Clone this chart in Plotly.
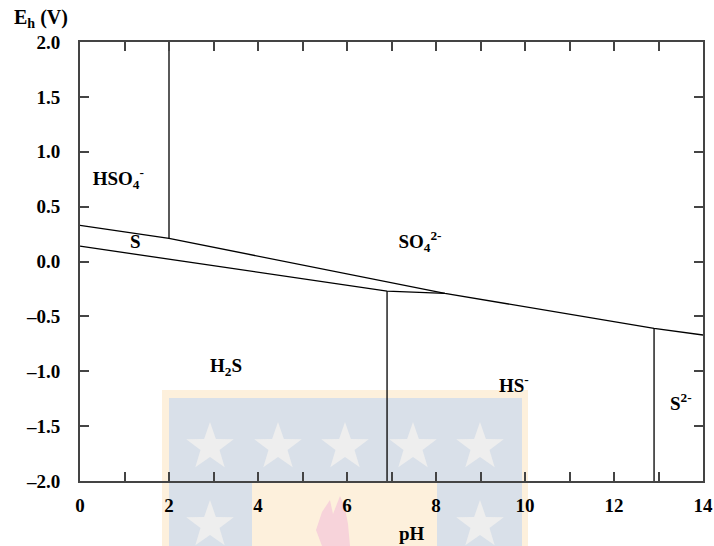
import math
import plotly.graph_objects as go

# Boundaries of the Eh-pH (Pourbaix) diagram for sulfur, 25 °C
ph_upper = [0, 2, 8.2, 12.9, 14]          # oxidised sulfate species above, S / reduced species below
eh_upper = [0.33, 0.21, -0.29, -0.61, -0.67]
ph_lower = [0, 6.9, 8.2]                   # S / H2S and S / HS-
eh_lower = [0.14, -0.27, -0.29]

# vertical acid-base boundaries: (pH, Eh bottom, Eh top)
verticals = [(2.0, 0.21, 2.0), (6.9, -2.0, -0.27), (12.9, -2.0, -0.61)]

# species labels
species = ["HSO<sub>4</sub><sup>-</sup>", "S", "SO<sub>4</sub><sup>2-</sup>",
           "H<sub>2</sub>S", "HS<sup>-</sup>", "S<sup>2-</sup>"]
species_ph = [0.86, 1.24, 7.64, 3.28, 9.75, 13.5]
species_eh = [0.74, 0.17, 0.17, -0.96, -1.15, -1.31]

x_ticks = list(range(0, 15))
x_ticktext = [str(v) if v % 2 == 0 else "" for v in x_ticks]
y_ticks = [2.0, 1.5, 1.0, 0.5, 0.0, -0.5, -1.0, -1.5, -2.0]
y_ticktext = [f"{v:.1f}".replace("-", "\u2013") for v in y_ticks]

FONT = "Liberation Serif"
line_style = dict(color="black", width=1.3)

# plot-area geometry in pixels, used to place the background emblem
W, H = 714, 546
L, R, T, B = 80, 11, 42, 65
PW, PH = W - L - R, H - T - B


def to_paper(x, y):
    return (x - L) / PW, (H - B - y) / PH


fig = go.Figure()
fig.add_trace(go.Scatter(x=ph_upper, y=eh_upper, mode="lines", line=line_style,
                         hoverinfo="skip", showlegend=False))
fig.add_trace(go.Scatter(x=ph_lower, y=eh_lower, mode="lines", line=line_style,
                         hoverinfo="skip", showlegend=False))
for ph, e0, e1 in verticals:
    fig.add_trace(go.Scatter(x=[ph, ph], y=[e0, e1], mode="lines", line=line_style,
                             hoverinfo="skip", showlegend=False))

fig.add_trace(go.Scatter(x=species_ph, y=species_eh, mode="text",
                         text=[f"<b>{s}</b>" for s in species],
                         textfont=dict(family=FONT, size=19, color="black"),
                         hoverinfo="skip", showlegend=False))


# faint background emblem (peach frame, blue panels, stars, flame)
def rect(x0, y0, x1, y1, color):
    px0, py1 = to_paper(x0, y0)
    px1, py0 = to_paper(x1, y1)
    fig.add_shape(type="rect", xref="paper", yref="paper", layer="below",
                  x0=px0, x1=px1, y0=py0, y1=py1, fillcolor=color, line_width=0)


def star(cx, cy, r_out, r_in, color):
    pts = []
    for k in range(10):
        r = r_out if k % 2 == 0 else r_in
        a = -math.pi / 2 + k * math.pi / 5
        pts.append(to_paper(cx + r * math.cos(a), cy + r * math.sin(a)))
    path = "M " + " L ".join(f"{x:.5f},{y:.5f}" for x, y in pts) + " Z"
    fig.add_shape(type="path", xref="paper", yref="paper", layer="below",
                  path=path, fillcolor=color, line_width=0)


rect(162, 390, 528, 560, "#fdf0dc")
rect(169, 398, 522, 481, "#d9e0e9")
rect(169, 481, 252, 560, "#d9e0e9")
rect(437, 481, 522, 560, "#d9e0e9")
for sx, sy in [(210, 447), (278, 447), (345, 447), (413, 447), (480, 447),
               (210, 525), (480, 525)]:
    star(sx, sy, 25, 10, "#eeeeee")

flame = [(322, 546), (316, 530), (322, 512), (330, 500), (333, 514), (340, 496),
         (345, 508), (348, 524), (350, 546)]
fpts = [to_paper(x, y) for x, y in flame]
fig.add_shape(type="path", xref="paper", yref="paper", layer="below",
              path="M " + " L ".join(f"{x:.5f},{y:.5f}" for x, y in fpts) + " Z",
              fillcolor="#f7d3da", line_width=0)

axis_common = dict(showline=True, linecolor="#444444", linewidth=2, mirror="allticks",
                   ticks="inside", tickcolor="#444444", tickwidth=1.5, ticklen=9,
                   showgrid=False, zeroline=False, automargin=False,
                   tickfont=dict(family=FONT, size=19, color="black", weight="bold"))

fig.update_xaxes(range=[0, 14], tickvals=x_ticks, ticktext=x_ticktext,
                 ticklabelstandoff=6, **axis_common)
fig.update_yaxes(range=[-2.0, 2.0], tickvals=y_ticks, ticktext=y_ticktext,
                 ticklabelstandoff=14, **axis_common)

ex, ey = to_paper(41, 19)
fig.add_annotation(xref="paper", yref="paper", x=ex, y=ey, xanchor="center", yanchor="middle",
                   text="<b>E<sub>h</sub> (V)</b>", showarrow=False,
                   font=dict(family=FONT, size=20, color="black"))
px_, py_ = to_paper(412, 533)
fig.add_annotation(xref="paper", yref="paper", x=px_, y=py_, xanchor="center", yanchor="middle",
                   text="<b>pH</b>", showarrow=False,
                   font=dict(family=FONT, size=19, color="black"))

fig.update_layout(width=W, height=H, margin=dict(l=L, r=R, t=T, b=B, autoexpand=False),
                  paper_bgcolor="white", plot_bgcolor="rgba(0,0,0,0)")

fig.write_html("out.html")
